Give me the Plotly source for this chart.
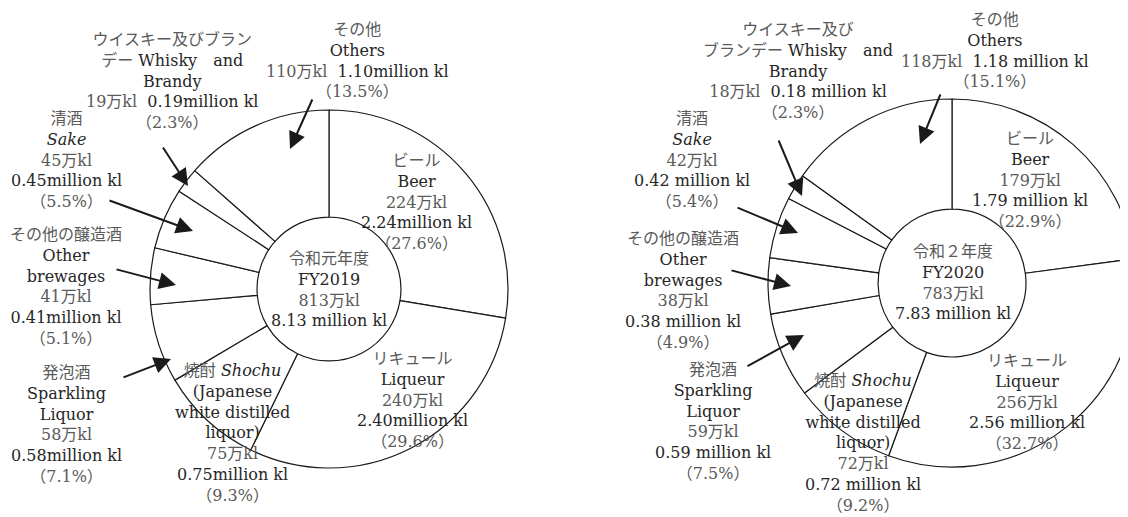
import plotly.graph_objects as go

W, H = 1128, 517
OFF = 8  # page body margin of the browser

# ---- data ----
categories = ["Beer", "Liqueur", "Shochu", "Sparkling Liquor", "Other brewages", "Sake", "Whisky and Brandy", "Others"]
share_2019 = [27.6, 29.6, 9.3, 7.1, 5.1, 5.5, 2.3, 13.5]
share_2020 = [22.9, 32.7, 9.2, 7.5, 4.9, 5.4, 2.3, 15.1]
vol_man_2019 = [224, 240, 75, 58, 41, 45, 19, 110]
vol_man_2020 = [179, 256, 72, 59, 38, 42, 18, 118]
total_2019 = 813
total_2020 = 783

JP = "#5a5a5a"
EN = "#262626"
FONT = "DejaVu Serif, Noto Sans CJK JP"
FS = 16


def g(s):
    return f'<span style="color:{JP}">{s}</span>'


def px(x, y):
    return (x - OFF) / W, 1 - (y - OFF) / H


def fmt_m(v, sp):
    return f"{v/100:.2f}{' ' if sp else ''}million kl"


def labels_for(vol, share, sp):
    v = dict(zip(categories, vol))
    s = dict(zip(categories, share))
    pct = lambda c: g(f"（{s[c]:.1f}%）")
    man = lambda c: g(f"{v[c]}万kl")
    return {
        "Beer": "<br>".join([g("ビール"), "Beer", man("Beer"), fmt_m(v["Beer"], sp), pct("Beer")]),
        "Liqueur": "<br>".join([g("リキュール"), "Liqueur", man("Liqueur"), fmt_m(v["Liqueur"], sp), pct("Liqueur")]),
        "Shochu": "<br>".join([g("焼酎 ") + "<i>Shochu</i>", "(Japanese", "white distilled", "liquor)",
                                man("Shochu"), fmt_m(v["Shochu"], sp), pct("Shochu")]),
        "Sparkling Liquor": "<br>".join([g("発泡酒"), "Sparkling", "Liquor", man("Sparkling Liquor"),
                                          fmt_m(v["Sparkling Liquor"], sp), pct("Sparkling Liquor")]),
        "Other brewages": "<br>".join([g("その他の醸造酒"), "Other", "brewages", man("Other brewages"),
                                        fmt_m(v["Other brewages"], sp), pct("Other brewages")]),
        "Sake": "<br>".join([g("清酒"), "<i>Sake</i>", man("Sake"), fmt_m(v["Sake"], sp), pct("Sake")]),
        "Others": "<br>".join([g("その他"), "Others", man("Others") + "  " + fmt_m(v["Others"], sp), pct("Others")]),
    }


def domain(cx, cy, r):
    fx, fy = cx - OFF, cy - OFF
    return ([max(0, (fx - r) / W), min(1, (fx + r) / W)],
            [max(0, (H - fy - r) / H), min(1, (H - fy + r) / H)])


fig = go.Figure()

pies = [
    (share_2019, domain(329, 289, 179)),
    (share_2020, domain(952, 283, 184)),
]
for vals, (dx, dy) in pies:
    fig.add_trace(go.Pie(
        labels=categories, values=vals, sort=False, direction="clockwise", rotation=0,
        hole=0.402, textinfo="none", hoverinfo="label+percent",
        marker=dict(colors=["white"] * len(categories), line=dict(color="#1a1a1a", width=1.2)),
        domain=dict(x=dx, y=dy), showlegend=False,
    ))

ann = []


def text(x, y, t, size=FS):
    X, Y = px(x, y)
    ann.append(dict(x=X, y=Y, xref="paper", yref="paper", text=t, showarrow=False,
                    xanchor="center", yanchor="middle", align="center",
                    font=dict(family=FONT, size=size, color=EN)))


def arrow(tail, tip):
    X, Y = px(*tip)
    ann.append(dict(x=X, y=Y, xref="paper", yref="paper", text="", showarrow=True,
                    ax=tail[0] - tip[0], ay=tail[1] - tip[1],
                    arrowhead=2, arrowsize=1.7, arrowwidth=2, arrowcolor="#1a1a1a", standoff=0))


# ---- FY2019 ----
L = labels_for(vol_man_2019, share_2019, False)
text(357, 60, L["Others"])
text(172, 81, "<br>".join([g("ウイスキー及びブラン"), g("デー ") + "Whisky　and", "Brandy",
                            g(f"{vol_man_2019[6]}万kl") + "  " + fmt_m(vol_man_2019[6], False),
                            g(f"（{share_2019[6]:.1f}%）")]))
text(66, 160, L["Sake"])
text(66, 286, L["Other brewages"])
text(66, 424, L["Sparkling Liquor"])
text(232, 433, L["Shochu"])
text(412, 400, L["Liqueur"])
text(416, 202, L["Beer"])
text(329, 289, "<br>".join([g("令和元年度"), "FY2019", g(f"{total_2019}万kl"), f"{total_2019/100:.2f} million kl"]))

arrow((313, 98), (290, 149))
arrow((162, 146), (188, 186))
arrow((108, 200), (193, 231))
arrow((115, 269), (176, 285))
arrow((122, 378), (171, 359))

# ---- FY2020 ----
R = labels_for(vol_man_2020, share_2020, True)
text(995, 51, R["Others"])
text(798, 71, "<br>".join([g("ウイスキー及び"), g("ブランデー ") + "Whisky　and", "Brandy",
                            g(f"{vol_man_2020[6]}万kl") + "  " + fmt_m(vol_man_2020[6], True),
                            g(f"（{share_2020[6]:.1f}%）")]))
text(692, 160, R["Sake"])
text(683, 290, R["Other brewages"])
text(713, 421, R["Sparkling Liquor"])
text(863, 443, R["Shochu"])
text(1027, 402, R["Liqueur"])
text(1030, 180, R["Beer"])
text(953, 282, "<br>".join([g("令和２年度"), "FY2020", g(f"{total_2020}万kl"), f"{total_2020/100:.2f} million kl"]))

arrow((941, 93), (920, 144))
arrow((778, 139), (802, 196))
arrow((736, 207), (798, 233))
arrow((730, 270), (791, 286))
arrow((746, 367), (804, 335))

fig.update_layout(
    width=W, height=H, margin=dict(l=0, r=0, t=0, b=0),
    paper_bgcolor="white", plot_bgcolor="white",
    annotations=ann,
)

fig.write_html("out.html")
